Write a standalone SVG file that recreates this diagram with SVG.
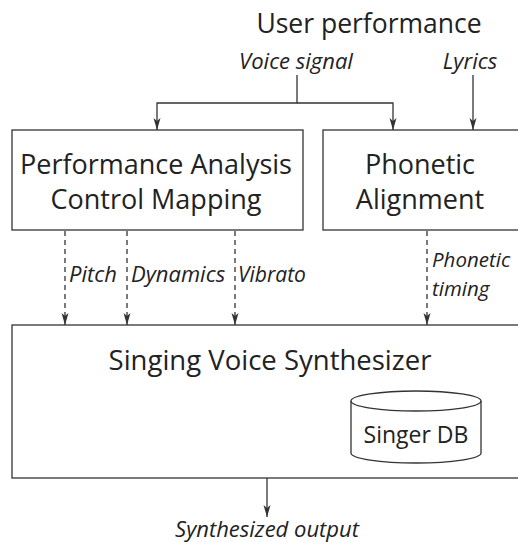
<svg xmlns="http://www.w3.org/2000/svg" width="518" height="542" viewBox="0 0 518 542">
  <style>
    .box { fill: #ffffff; stroke: #333333; stroke-width: 1.3; }
    .title { font-family: "Open Sans", "Noto Sans", sans-serif; font-size: 27px; fill: #222222; text-anchor: middle; }
    .lbl { font-family: "Open Sans", "Noto Sans", sans-serif; font-size: 22px; font-style: italic; fill: #222222; }
    .mid { text-anchor: middle; }
    .solid { fill: none; stroke: #333333; stroke-width: 1.3; }
    .dash { fill: none; stroke: #333333; stroke-width: 1.3; stroke-dasharray: 5 4; }
  </style>
  <defs>
    <marker id="arrd" viewBox="0 0 12 8" refX="12" refY="4" markerWidth="12" markerHeight="8" markerUnits="userSpaceOnUse" orient="auto">
      <path d="M0,0.5 L12,4 L0,7.5 L3,4 Z" fill="#333333"/>
    </marker>
  </defs>

  <!-- inputs -->
  <text class="title" x="369" y="33" style="font-size:26.5px">User performance</text>
  <text class="lbl mid" x="296" y="69">Voice signal</text>
  <text class="lbl mid" x="470" y="69">Lyrics</text>

  <g id="connectors">
    <path class="solid" d="M297,75 V103 H157 V130" marker-end="url(#arrd)"/>
    <path class="solid" d="M297,103 H393 V130" marker-end="url(#arrd)"/>
    <path class="solid" d="M473,75 V130" marker-end="url(#arrd)"/>
    <path class="dash" d="M65,231 V325" marker-end="url(#arrd)"/>
    <path class="dash" d="M127,231 V325" marker-end="url(#arrd)"/>
    <path class="dash" d="M235,231 V325" marker-end="url(#arrd)"/>
    <path class="dash" d="M427,231 V325" marker-end="url(#arrd)"/>
    <path class="solid" d="M267,478 V517" marker-end="url(#arrd)"/>
  </g>

  <g id="analysis">
    <rect class="box" x="12" y="130" width="291" height="100"/>
    <text class="title" x="156" y="174">Performance Analysis</text>
    <text class="title" x="156" y="209">Control Mapping</text>
  </g>

  <g id="alignment">
    <rect class="box" x="323" y="130" width="210" height="100"/>
    <text class="title" x="420" y="174">Phonetic</text>
    <text class="title" x="420" y="209">Alignment</text>
  </g>

  <text class="lbl" x="69" y="282">Pitch</text>
  <text class="lbl" x="131" y="282">Dynamics</text>
  <text class="lbl" x="238" y="282" style="font-size:21px">Vibrato</text>
  <text class="lbl" x="432" y="267" style="font-size:20.5px">Phonetic</text>
  <text class="lbl" x="432" y="296" style="font-size:20.5px">timing</text>

  <g id="synthesizer">
    <rect class="box" x="12" y="325" width="520" height="153"/>
    <text class="title" x="270" y="370" style="font-size:27.5px">Singing Voice Synthesizer</text>
  </g>

  <g id="singer-db">
    <path class="box" d="M351,401 V453 A65,10 0 0 0 481,453 V401 A65,10 0 0 0 351,401 Z"/>
    <path class="solid" d="M351,401 A65,10 0 0 0 481,401"/>
    <text class="title" x="416" y="443" style="font-size:23px">Singer DB</text>
  </g>

  <text class="lbl mid" x="267" y="537">Synthesized output</text>
</svg>
